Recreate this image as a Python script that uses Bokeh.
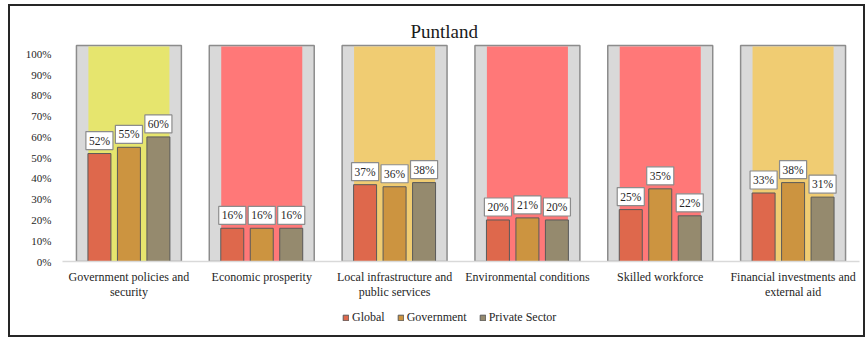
from bokeh.plotting import figure
from bokeh.layouts import column
from bokeh.models import (ColumnDataSource, Legend, LegendItem, FactorRange, Range1d,
                          FixedTicker, PrintfTickFormatter, CategoricalAxis)
from bokeh.transform import dodge
from bokeh.core.properties import value
from bokeh.embed import file_html
from bokeh.resources import INLINE

# ---------------- data ----------------
# category names (first line / second line of each label)
categories = [
    "Government policies and",
    "Economic prosperity",
    "Local infrastructure and",
    "Environmental conditions",
    "Skilled workforce",
    "Financial investments and",
]
categories_line2 = ["security", " ", "public services", "  ", "   ", "external aid"]
global_vals = [52, 16, 37, 20, 25, 33]
government_vals = [55, 16, 36, 21, 35, 38]
private_vals = [60, 16, 38, 20, 22, 31]
backdrop_colors = ["#E6E56E", "#FF7878", "#F0CC72", "#FF7878", "#FF7878", "#F0CC72"]
series_names = ["Global", "Government", "Private Sector"]
series_colors = ["#DE684C", "#CC9440", "#958A6E"]
y_ticks = [0, 10, 20, 30, 40, 50, 60, 70, 80, 90, 100]

FONT = "Liberation Serif"
FULL = 104  # height of the panel backdrop (axis units)

src = ColumnDataSource(dict(
    cat=categories,
    g=global_vals, gv=government_vals, pv=private_vals,
    gl=[f"{v}%" for v in global_vals],
    gvl=[f"{v}%" for v in government_vals],
    pvl=[f"{v}%" for v in private_vals],
    back=backdrop_colors,
    full=[FULL] * len(categories),
    zero=[0] * len(categories),
))

p = figure(
    width=853, height=296,
    x_range=FactorRange(*categories, range_padding=0),
    y_range=Range1d(0, 105),
    output_backend="svg", toolbar_location=None,
    min_border_left=52, min_border_right=4, min_border_top=37, min_border_bottom=41,
    title="Puntland",
)
p.extra_x_ranges = {"line2": FactorRange(*categories_line2, range_padding=0)}

p.title.align = "left"
p.title.text_font = FONT
p.title.text_font_size = "19px"
p.title.text_font_style = "normal"
p.title.text_color = "#1a1a1a"
p.title.offset = 348
p.title.standoff = 4

p.outline_line_color = None
p.xgrid.grid_line_color = None
p.ygrid.grid_line_color = None
p.background_fill_color = "white"

# gray panels
p.vbar(x="cat", top="full", bottom="zero", width=0.79, source=src,
       fill_color="#D9D9D9", line_color="#8C8C8C", line_width=1.5)
# coloured backdrop
p.vbar(x="cat", top=FULL - 0.5, bottom=0, width=0.61, source=src,
       fill_color="back", line_color=None)

offsets = [-0.222, 0.0, 0.222]
fields = ["g", "gv", "pv"]
lfields = ["gl", "gvl", "pvl"]
for off, f, lf, col in zip(offsets, fields, lfields, series_colors):
    p.vbar(x=dodge("cat", off, range=p.x_range), top=f, width=0.173, source=src,
           fill_color=col, line_color="#5A5A5A", line_width=1)
    p.text(x=dodge("cat", off, range=p.x_range), y=f, text=lf, source=src,
           text_font=value(FONT), text_font_size="11.5px", text_color="#262626",
           text_align="center", text_baseline="middle", y_offset=-13,
           background_fill_color="white", border_line_color="#8C8C8C",
           border_line_width=1.2, padding=3)

# axes
p.xaxis.axis_line_color = "#D9D9D9"
p.xaxis.axis_line_width = 1.5
p.xaxis.major_tick_line_color = None
p.xaxis.minor_tick_line_color = None
p.xaxis.major_label_standoff = 2
p.xaxis.major_label_text_font = FONT
p.xaxis.major_label_text_font_size = "12px"
p.xaxis.major_label_text_color = "#262626"

ax2 = CategoricalAxis(
    x_range_name="line2",
    axis_line_color=None, major_tick_line_color=None, minor_tick_line_color=None,
    major_label_standoff=-8, major_label_text_font=FONT, major_label_text_font_size="12px",
    major_label_text_color="#262626",
)
p.add_layout(ax2, "below")

p.yaxis.ticker = FixedTicker(ticks=y_ticks)
p.yaxis.formatter = PrintfTickFormatter(format="%d%%")
p.yaxis.axis_line_color = None
p.yaxis.major_tick_line_color = None
p.yaxis.minor_tick_line_color = None
p.yaxis.major_label_standoff = 5
p.yaxis.major_label_text_font = FONT
p.yaxis.major_label_text_font_size = "11px"
p.yaxis.major_label_text_color = "#262626"

# ---------------- legend strip ----------------
# The key glyphs come from the same series; the strip's y range lies above the
# data so that only the legend swatches are visible.
pl = figure(width=853, height=33, x_range=FactorRange(*categories, range_padding=0),
            y_range=Range1d(200, 201),
            output_backend="svg", toolbar_location=None,
            x_axis_location=None, y_axis_location=None,
            min_border_left=0, min_border_right=0, min_border_top=0, min_border_bottom=0)
pl.outline_line_color = None
pl.xgrid.grid_line_color = None
pl.ygrid.grid_line_color = None
key_renderers = [
    pl.vbar(x="cat", top=f, width=0.173, source=src,
            fill_color=c, line_color="#5A5A5A", line_width=1)
    for f, c in zip(fields, series_colors)
]
legend = Legend(
    items=[LegendItem(label=n, renderers=[r]) for n, r in zip(series_names, key_renderers)],
    orientation="horizontal", location=(280, 10),
    label_text_font=FONT, label_text_font_size="12px", label_text_color="#262626",
    glyph_width=7, glyph_height=7, label_standoff=3, spacing=12, label_height=14,
    padding=2, margin=0, border_line_color=None, background_fill_alpha=0,
)
pl.add_layout(legend)

layout = column(p, pl, spacing=0)
layout.styles = {"margin-left": "10px", "margin-top": "6px", "outline": "2px solid #262626"}

open("out.html", "w").write(file_html(layout, INLINE))
